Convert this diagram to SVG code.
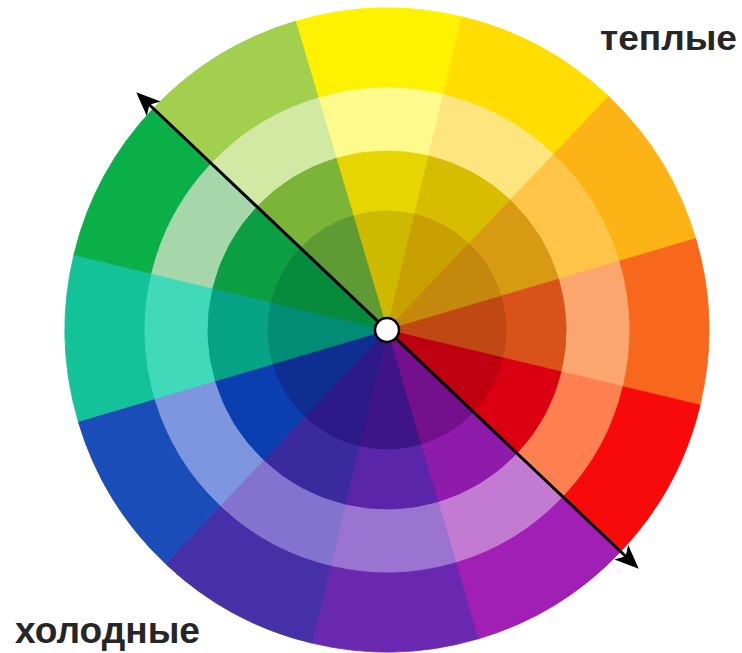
<svg xmlns="http://www.w3.org/2000/svg" xmlns:xlink="http://www.w3.org/1999/xlink" width="742" height="653" viewBox="0 0 742 653">
<style>
.lbl{font-family:"Liberation Sans",Arial,sans-serif;font-weight:bold;fill:#262626}
.seg use{stroke-width:0.8}
.axis{stroke:#000;stroke-width:3;fill:none}
</style>
<defs>
<path id="w1" d="M0,0 L-83.34,-311.03 A322,322 0 0 1 83.34,-311.03 Z"/>
<path id="w2" d="M0,0 L-62.63,-233.75 A242,242 0 0 1 62.63,-233.75 Z"/>
<path id="w3" d="M0,0 L-46.33,-172.90 A179,179 0 0 1 46.33,-172.90 Z"/>
<path id="w4" d="M0,0 L-30.80,-114.94 A119,119 0 0 1 30.80,-114.94 Z"/>
<marker id="ah" markerUnits="userSpaceOnUse" markerWidth="40" markerHeight="40" viewBox="-20 -20 40 40" refX="0" refY="0" orient="auto-start-reverse">
<path d="M9,0 L-15,-10 L-9,0 L-15,10 Z" fill="#000"/>
</marker>
</defs>
<rect width="742" height="653" fill="#fff"/>
<g id="wheel" transform="translate(387,330) rotate(-1.5)">
<g id="ring-outer" class="seg">
<use xlink:href="#w1" fill="#FFF200" stroke="#FFF200"/>
<use xlink:href="#w1" transform="rotate(30)" fill="#FFDD00" stroke="#FFDD00"/>
<use xlink:href="#w1" transform="rotate(60)" fill="#FCB316" stroke="#FCB316"/>
<use xlink:href="#w1" transform="rotate(90)" fill="#F7681C" stroke="#F7681C"/>
<use xlink:href="#w1" transform="rotate(120)" fill="#F90A0A" stroke="#F90A0A"/>
<use xlink:href="#w1" transform="rotate(150)" fill="#A11FB4" stroke="#A11FB4"/>
<use xlink:href="#w1" transform="rotate(180)" fill="#6A28B0" stroke="#6A28B0"/>
<use xlink:href="#w1" transform="rotate(210)" fill="#4530A8" stroke="#4530A8"/>
<use xlink:href="#w1" transform="rotate(240)" fill="#1B4DB8" stroke="#1B4DB8"/>
<use xlink:href="#w1" transform="rotate(270)" fill="#14C29A" stroke="#14C29A"/>
<use xlink:href="#w1" transform="rotate(300)" fill="#0BAF48" stroke="#0BAF48"/>
<use xlink:href="#w1" transform="rotate(330)" fill="#A2CF4E" stroke="#A2CF4E"/>
</g>
<g id="ring-light" class="seg">
<use xlink:href="#w2" fill="#FFFA8C" stroke="#FFFA8C"/>
<use xlink:href="#w2" transform="rotate(30)" fill="#FFE57E" stroke="#FFE57E"/>
<use xlink:href="#w2" transform="rotate(60)" fill="#FFC448" stroke="#FFC448"/>
<use xlink:href="#w2" transform="rotate(90)" fill="#FBA66E" stroke="#FBA66E"/>
<use xlink:href="#w2" transform="rotate(120)" fill="#FE8050" stroke="#FE8050"/>
<use xlink:href="#w2" transform="rotate(150)" fill="#C37AD2" stroke="#C37AD2"/>
<use xlink:href="#w2" transform="rotate(180)" fill="#9A74D0" stroke="#9A74D0"/>
<use xlink:href="#w2" transform="rotate(210)" fill="#8274CE" stroke="#8274CE"/>
<use xlink:href="#w2" transform="rotate(240)" fill="#7E96E0" stroke="#7E96E0"/>
<use xlink:href="#w2" transform="rotate(270)" fill="#40D9B9" stroke="#40D9B9"/>
<use xlink:href="#w2" transform="rotate(300)" fill="#A6D7AA" stroke="#A6D7AA"/>
<use xlink:href="#w2" transform="rotate(330)" fill="#D2E9A3" stroke="#D2E9A3"/>
</g>
<g id="ring-medium" class="seg">
<use xlink:href="#w3" fill="#E6D500" stroke="#E6D500"/>
<use xlink:href="#w3" transform="rotate(30)" fill="#D8BC00" stroke="#D8BC00"/>
<use xlink:href="#w3" transform="rotate(60)" fill="#D89A12" stroke="#D89A12"/>
<use xlink:href="#w3" transform="rotate(90)" fill="#D9521A" stroke="#D9521A"/>
<use xlink:href="#w3" transform="rotate(120)" fill="#DA0012" stroke="#DA0012"/>
<use xlink:href="#w3" transform="rotate(150)" fill="#8E1BAA" stroke="#8E1BAA"/>
<use xlink:href="#w3" transform="rotate(180)" fill="#5A25A8" stroke="#5A25A8"/>
<use xlink:href="#w3" transform="rotate(210)" fill="#3A2A9E" stroke="#3A2A9E"/>
<use xlink:href="#w3" transform="rotate(240)" fill="#0B3FB0" stroke="#0B3FB0"/>
<use xlink:href="#w3" transform="rotate(270)" fill="#06A387" stroke="#06A387"/>
<use xlink:href="#w3" transform="rotate(300)" fill="#0B9E42" stroke="#0B9E42"/>
<use xlink:href="#w3" transform="rotate(330)" fill="#7BB436" stroke="#7BB436"/>
</g>
<g id="ring-dark" class="seg">
<use xlink:href="#w4" fill="#CDB900" stroke="#CDB900"/>
<use xlink:href="#w4" transform="rotate(30)" fill="#C8A000" stroke="#C8A000"/>
<use xlink:href="#w4" transform="rotate(60)" fill="#C4880C" stroke="#C4880C"/>
<use xlink:href="#w4" transform="rotate(90)" fill="#C04812" stroke="#C04812"/>
<use xlink:href="#w4" transform="rotate(120)" fill="#BE0010" stroke="#BE0010"/>
<use xlink:href="#w4" transform="rotate(150)" fill="#74108C" stroke="#74108C"/>
<use xlink:href="#w4" transform="rotate(180)" fill="#3E1486" stroke="#3E1486"/>
<use xlink:href="#w4" transform="rotate(210)" fill="#2B1A88" stroke="#2B1A88"/>
<use xlink:href="#w4" transform="rotate(240)" fill="#0E2E92" stroke="#0E2E92"/>
<use xlink:href="#w4" transform="rotate(270)" fill="#008C75" stroke="#008C75"/>
<use xlink:href="#w4" transform="rotate(300)" fill="#068A3C" stroke="#068A3C"/>
<use xlink:href="#w4" transform="rotate(330)" fill="#5E9B32" stroke="#5E9B32"/>
</g>
</g>
<g id="connectors">
<line class="axis" x1="142.8" y1="98.5" x2="632.2" y2="562.5" marker-start="url(#ah)" marker-end="url(#ah)"/>
</g>
<g id="center">
<circle cx="387" cy="330" r="12" fill="#fff" stroke="#000" stroke-width="2.5"/>
</g>
<g id="label-warm">
<text class="lbl" x="600" y="50" font-size="35" textLength="137" lengthAdjust="spacingAndGlyphs">теплые</text>
</g>
<g id="label-cold">
<text class="lbl" x="15" y="643" font-size="37" textLength="185" lengthAdjust="spacingAndGlyphs">холодные</text>
</g>
</svg>
